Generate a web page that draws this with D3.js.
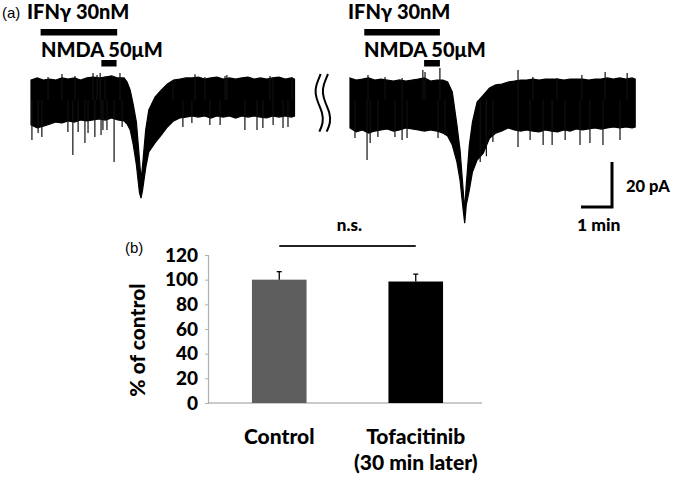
<!DOCTYPE html>
<html><head><meta charset="utf-8">
<script src="https://cdn.jsdelivr.net/npm/d3@7"></script>
<style>body{margin:0;background:#fff}svg{display:block}text{font-family:Lato,"Open Sans",sans-serif}</style>
</head><body><svg id="c" width="675" height="477"></svg>
<script>
// ---------- Panel (a): current traces (time in min, current in pA) ----------
const traceATime  = [0,0.2,0.4,0.6,0.8,1.0,1.2,1.4,1.6,1.8,2.0,2.2,2.4,2.6,2.8,3.0,3.1,3.2,3.3,3.4,3.5,3.55,3.6,3.7,3.8,4.0,4.2,4.4,4.6,4.8,5.0,5.2,5.4,5.6,5.8,6.0,6.2,6.4,6.6,6.8,7.0,7.2,7.4,7.6,7.8,8.0,8.2,8.4,8.5];
const traceAUpper = [8.9,9.8,8.9,9.3,8.9,9.8,9.3,9.8,8.9,9.8,10.2,9.8,10.2,10.7,9.8,9.8,8,4.4,-2.2,-9.8,-26.7,-35.6,-28.9,-13.3,-4.4,1.3,4.4,7.1,8.9,9.3,9.8,9.8,10.2,9.3,9.8,10.2,9.3,9.8,9.3,9.8,10.2,9.3,9.8,9.3,9.8,10.2,9.3,9.8,9.3];
const traceALower = [-11.1,-12.4,-11.6,-10.7,-9.8,-10.2,-9.3,-9.8,-8.9,-9.3,-8.9,-8.4,-8.9,-8,-8.9,-9.3,-10.7,-13.3,-20,-28.9,-41.3,-43.6,-40,-30.2,-23.1,-19.1,-15.6,-12,-9.3,-8,-7.6,-7.1,-7.6,-7.1,-8,-7.1,-7.6,-7.1,-8,-7.1,-7.6,-7.1,-7.6,-8,-7.1,-7.6,-7.1,-7.6,-7.1];
const traceASpikeTime = [0.03,0.23,0.35,1.19,1.35,1.52,1.74,1.84,2.06,2.26,2.32,2.45,2.68,2.94,4.9,5.19,5.77,6.1,6.9,7.29,7.48,7.81,8.13,8.29,
                         0.55,1.0,1.42,2.0,2.13,2.23,2.39,2.87,4.58,5.29,5.61,6.26,6.32,7.71,7.81,8.42];
const traceASpikeVal  = [-17.8,-14.7,-16.4,-14.2,-24.4,-14.2,-19.1,-14.7,-16.4,-15.6,-13.3,-13.3,-27.6,-12,-12,-10.2,-11.1,-11.1,-13.3,-13.3,-12.4,-11.1,-12.4,-12,
                         10.2,11.6,10.7,12,11.1,12,10.7,12,8.9,11.4,10.2,10.7,11.1,10.7,10.2,10.2];

const traceBTime  = [0,0.2,0.4,0.6,0.8,1.0,1.2,1.4,1.6,1.8,2.0,2.2,2.4,2.6,2.8,3.0,3.15,3.3,3.45,3.55,3.65,3.7,3.75,3.85,3.95,4.1,4.3,4.5,4.7,4.9,5.1,5.3,5.5,5.7,5.9,6.1,6.3,6.5,6.7,6.9,7.1,7.3,7.5,7.7,7.9,8.1,8.3,8.5,8.7,8.9,9.1,9.2];
const traceBUpper = [9.8,8.9,9.3,9.8,8.9,9.3,8.9,8.4,8.9,8.4,8.9,9.3,9.8,8.4,8.9,8.9,8,3.6,-11.1,-22.2,-40,-48.9,-37.8,-20,-9.8,-0.9,2.2,5.3,6.7,7.1,8,8.4,8.9,8.9,9.3,8.9,9.3,9.3,9.3,8.9,9.3,9.3,9.3,8.9,9.3,9.3,9.8,9.3,9.8,9.3,9.8,9.3];
const traceBLower = [-12.4,-14.2,-13.3,-14.7,-13.8,-13.3,-12.9,-13.8,-13.3,-12.4,-12.9,-13.3,-13.8,-13.3,-13.8,-14.7,-16,-20,-27.6,-35.6,-48.9,-54.7,-46.7,-40,-32,-26.7,-23.6,-17,-14.7,-13.8,-12.4,-13.3,-13.8,-13.3,-13.8,-14.2,-13.3,-13.8,-14.2,-13.3,-13.8,-12.9,-13.3,-12.9,-12.4,-12.9,-12.4,-12,-12.4,-12,-12.4,-12];
const traceBSpikeTime = [0.16,0.55,0.65,0.9,1.45,1.68,1.84,2.84,3.06,4.2,4.4,4.61,5.42,5.81,6.23,6.52,6.94,7.42,7.74,8.16,8.71,
                         0.58,1.13,1.68,2.35,2.42,2.9,5.42,5.9,6.68,7.48,8.23,8.94];
const traceBSpikeVal  = [-16.9,-26.7,-19.1,-16.4,-16.4,-17.8,-16.9,-16.9,-15.6,-27.6,-25,-18.7,-20.9,-17.8,-20,-20,-17.8,-20,-19.1,-20,-17.8,
                         11.1,10.2,9.8,13.3,12.4,14.2,13.3,10.2,9.8,11.1,12.4,12];

// drug application windows (min)
const ifnA = [0.31, 2.78], nmdaA = [2.27, 2.76];
const ifnB = [0.46, 2.9],  nmdaB = [2.39, 2.9];
const scaleBarPA = 20, scaleBarMin = 1;

// ---------- Panel (b): bar chart ----------
const groups = ["Control", "Tofacitinib"];
const groupLines = [["Control"], ["Tofacitinib", "(30 min later)"]];
const means = [100, 98.5];
const sems = [6.5, 6];
const barColors = ["#5e5e5e", "#000000"];
const yTicks = [0, 20, 40, 60, 80, 100, 120];

const svg = d3.select("#c");
svg.append("rect").attr("width", 675).attr("height", 477).attr("fill", "#fff");

const xA = d3.scaleLinear().domain([0, 8.5]).range([31, 294.5]);
const xB = d3.scaleLinear().domain([0, 9.2]).range([350, 635.2]);
const yT = d3.scaleLinear().domain([0, -20]).range([100, 145]);

function drawTrace(x, t, up, lo, st, sv) {
  const idx = d3.range(t.length);
  const area = d3.area().x(i => x(t[i])).y0(i => yT(lo[i])).y1(i => yT(up[i]));
  svg.append("path").attr("d", area(idx)).attr("fill", "#000").attr("stroke", "#000").attr("stroke-width", 1.2).attr("stroke-linejoin", "miter");
  svg.append("g").selectAll("line").data(d3.range(st.length)).join("line")
    .attr("x1", i => x(st[i])).attr("x2", i => x(st[i]))
    .attr("y1", yT(0)).attr("y2", i => yT(sv[i]))
    .attr("stroke", "#111").attr("stroke-width", 1.2);
}
drawTrace(xA, traceATime, traceAUpper, traceALower, traceASpikeTime, traceASpikeVal);
drawTrace(xB, traceBTime, traceBUpper, traceBLower, traceBSpikeTime, traceBSpikeVal);

const BOLD = 900;
function drugBars(x, ifn, nmda, lx1, lx2) {
  svg.append("rect").attr("x", x(ifn[0])).attr("width", x(ifn[1]) - x(ifn[0])).attr("y", 29).attr("height", 6.5);
  svg.append("rect").attr("x", x(nmda[0])).attr("width", x(nmda[1]) - x(nmda[0])).attr("y", 60).attr("height", 6.5);
  svg.append("text").attr("x", lx1).attr("y", 19).attr("font-weight", BOLD).attr("font-size", 20).text("IFNγ 30nM");
  svg.append("text").attr("x", lx2).attr("y", 57).attr("font-weight", BOLD).attr("font-size", 20).text("NMDA 50μM");
}
drugBars(xA, ifnA, nmdaA, 27, 41);
drugBars(xB, ifnB, nmdaB, 348, 364);

svg.append("text").attr("x", 2).attr("y", 18).attr("font-size", 15).style("font-family", "Liberation Sans, Arial, sans-serif").text("(a)");

// break symbol
const brk = [[320.7,74],[316,85],[315,93],[318,103],[322.7,113],[323.3,123],[319.3,131.7]];
const curve = d3.line().curve(d3.curveBasis);
[0, 7.3].forEach(dx => {
  svg.append("path").attr("d", curve(brk.map(p => [p[0] + dx, p[1]]))).attr("fill", "none").attr("stroke", "#000").attr("stroke-width", 2);
});

// scale bar
const sbX = 612, sbY = 207;
const sbH = Math.abs(yT(scaleBarPA) - yT(0));
const sbW = xB(scaleBarMin) - xB(0);
svg.append("path").attr("d", `M${sbX - sbW},${sbY}H${sbX}V${sbY - sbH}`).attr("fill", "none").attr("stroke", "#000").attr("stroke-width", 3);
svg.append("text").attr("x", 626).attr("y", 192).attr("font-weight", BOLD).attr("font-size", 16.5).text("20 pA");
svg.append("text").attr("x", 577).attr("y", 231).attr("font-weight", BOLD).attr("font-size", 17.5).text("1 min");

// ---------- bar chart ----------
const x = d3.scaleBand().domain(groups).range([211, 484]).paddingInner(0.6).paddingOuter(0.3);
const y = d3.scaleLinear().domain([0, 120]).range([403, 255]);

svg.append("line").attr("x1", 208).attr("x2", 482).attr("y1", y(0)).attr("y2", y(0)).attr("stroke", "#b8b8b8").attr("stroke-width", 1.5);
const ya = svg.append("g").attr("transform", "translate(208,0)").call(d3.axisLeft(y).tickValues(yTicks).tickSize(3).tickPadding(7));
ya.select(".domain").attr("stroke", "#b0b0b0").attr("stroke-width", 1.2);
ya.selectAll(".tick line").attr("stroke", "#b0b0b0");
ya.selectAll(".tick text").attr("font-size", 19).attr("font-weight", BOLD).attr("fill", "#000").style("font-family", "Lato, sans-serif");

svg.append("g").selectAll("rect").data(groups).join("rect")
  .attr("x", d => x(d)).attr("width", x.bandwidth())
  .attr("y", (d, i) => y(means[i])).attr("height", (d, i) => y(0) - y(means[i]))
  .attr("fill", (d, i) => barColors[i]);

groups.forEach((g, i) => {
  const cx = x(g) + x.bandwidth() / 2;
  svg.append("line").attr("x1", cx).attr("x2", cx).attr("y1", y(means[i])).attr("y2", y(means[i] + sems[i])).attr("stroke", "#000").attr("stroke-width", 1.3);
  svg.append("line").attr("x1", cx - 2.5).attr("x2", cx + 2.5).attr("y1", y(means[i] + sems[i])).attr("y2", y(means[i] + sems[i])).attr("stroke", "#000").attr("stroke-width", 1.3);
  const t = svg.append("text").attr("text-anchor", "middle").attr("font-weight", BOLD).attr("font-size", 21);
  groupLines[i].forEach((ln, j) => t.append("tspan").attr("x", cx).attr("y", 444 + j * 26).text(ln));
});

// significance
const c0 = x(groups[0]) + x.bandwidth() / 2, c1 = x(groups[1]) + x.bandwidth() / 2;
svg.append("line").attr("x1", c0).attr("x2", c1).attr("y1", 246).attr("y2", 246).attr("stroke", "#222").attr("stroke-width", 2);
svg.append("text").attr("x", (c0 + c1) / 2 + 2).attr("y", 231).attr("text-anchor", "middle").attr("font-weight", BOLD).attr("font-size", 17).text("n.s.");

svg.append("text").attr("x", 125).attr("y", 253).attr("font-size", 15).style("font-family", "Liberation Sans, Arial, sans-serif").text("(b)");
svg.append("text").attr("transform", "translate(145,340) rotate(-90)").attr("text-anchor", "middle").attr("font-weight", BOLD).attr("font-size", 21).text("% of control");
</script></body></html>
